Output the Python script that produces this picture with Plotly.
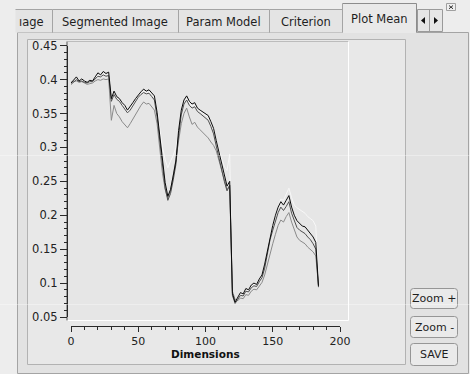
import plotly.graph_objects as go

# ---------------- data ----------------
dims = list(range(0, 185, 2))

mean_black = [
    0.395, 0.399, 0.404, 0.398, 0.401, 0.398, 0.396, 0.399, 0.398, 0.404,
    0.410, 0.407, 0.412, 0.409, 0.411, 0.372, 0.383, 0.375, 0.372, 0.366,
    0.362, 0.355, 0.360, 0.366, 0.372, 0.378, 0.382, 0.386, 0.383, 0.385,
    0.380, 0.376, 0.352, 0.318, 0.280, 0.248, 0.228, 0.238, 0.258, 0.280,
    0.325, 0.355, 0.370, 0.376, 0.368, 0.364, 0.366, 0.358, 0.355, 0.352,
    0.350, 0.347, 0.338, 0.328, 0.310, 0.292, 0.275, 0.258, 0.243, 0.250,
    0.085, 0.072, 0.080, 0.086, 0.084, 0.092, 0.090, 0.097, 0.100, 0.098,
    0.106, 0.112, 0.128, 0.148, 0.170, 0.185, 0.200, 0.212, 0.220, 0.215,
    0.222, 0.229, 0.212, 0.200, 0.192, 0.188, 0.184, 0.183, 0.178, 0.174,
    0.168, 0.160, 0.096]

mean_dark = [
    0.393, 0.396, 0.400, 0.397, 0.398, 0.396, 0.395, 0.397, 0.397, 0.401,
    0.405, 0.404, 0.407, 0.405, 0.406, 0.368, 0.378, 0.371, 0.368, 0.362,
    0.357, 0.351, 0.355, 0.362, 0.368, 0.374, 0.378, 0.381, 0.379, 0.380,
    0.375, 0.370, 0.345, 0.310, 0.270, 0.240, 0.222, 0.232, 0.252, 0.275,
    0.318, 0.348, 0.364, 0.370, 0.362, 0.358, 0.360, 0.353, 0.350, 0.347,
    0.344, 0.340, 0.331, 0.320, 0.302, 0.284, 0.266, 0.250, 0.236, 0.244,
    0.082, 0.070, 0.076, 0.082, 0.081, 0.088, 0.087, 0.093, 0.096, 0.095,
    0.102, 0.108, 0.122, 0.142, 0.164, 0.178, 0.192, 0.204, 0.212, 0.207,
    0.213, 0.220, 0.203, 0.192, 0.182, 0.178, 0.175, 0.173, 0.168, 0.164,
    0.158, 0.150, 0.094]

mean_gray = [
    0.396, 0.397, 0.398, 0.396, 0.397, 0.395, 0.393, 0.394, 0.395, 0.398,
    0.400, 0.399, 0.401, 0.400, 0.401, 0.340, 0.362, 0.350, 0.345, 0.338,
    0.333, 0.329, 0.335, 0.342, 0.350, 0.357, 0.362, 0.367, 0.364, 0.365,
    0.360, 0.355, 0.335, 0.300, 0.262, 0.238, 0.225, 0.236, 0.258, 0.282,
    0.310, 0.335, 0.350, 0.358, 0.345, 0.334, 0.337, 0.330, 0.326, 0.322,
    0.318, 0.314, 0.308, 0.303, 0.295, 0.280, 0.264, 0.250, 0.238, 0.244,
    0.088, 0.076, 0.074, 0.078, 0.077, 0.083, 0.082, 0.088, 0.091, 0.090,
    0.096, 0.101, 0.112, 0.128, 0.145, 0.158, 0.172, 0.185, 0.193, 0.190,
    0.198, 0.204, 0.190, 0.178, 0.168, 0.163, 0.160, 0.158, 0.153, 0.150,
    0.146, 0.140, 0.096]

mean_white = [
    0.394, 0.397, 0.401, 0.397, 0.399, 0.397, 0.395, 0.398, 0.397, 0.402,
    0.407, 0.405, 0.409, 0.406, 0.408, 0.370, 0.380, 0.373, 0.370, 0.364,
    0.360, 0.353, 0.357, 0.363, 0.370, 0.376, 0.380, 0.383, 0.381, 0.382,
    0.378, 0.374, 0.356, 0.328, 0.300, 0.282, 0.270, 0.280, 0.288, 0.300,
    0.322, 0.350, 0.366, 0.372, 0.365, 0.361, 0.362, 0.356, 0.353, 0.350,
    0.348, 0.345, 0.336, 0.325, 0.310, 0.295, 0.283, 0.272, 0.266, 0.290,
    0.084, 0.074, 0.079, 0.084, 0.083, 0.090, 0.089, 0.095, 0.098, 0.097,
    0.104, 0.110, 0.125, 0.146, 0.168, 0.184, 0.200, 0.214, 0.224, 0.222,
    0.230, 0.240, 0.226, 0.215, 0.211, 0.208, 0.205, 0.203, 0.198, 0.195,
    0.192, 0.184, 0.096]

x_ticks = [0, 50, 100, 150, 200]
x_ticklabels = ["0", "50", "100", "150", "200"]
x_minor = list(range(0, 201, 10))
y_ticks = [0.05, 0.10, 0.15, 0.20, 0.25, 0.30, 0.35, 0.40, 0.45]
y_ticklabels = ["0.05", "0.1", "0.15", "0.2", "0.25", "0.3", "0.35", "0.4", "0.45"]
y_minor = [round(0.05 + 0.01 * i, 2) for i in range(41)]

tab_labels = ["ıage", "Segmented Image", "Param Model", "Criterion", "Plot Mean"]
button_labels = ["Zoom +", "Zoom -", "SAVE"]
x_title = "Dimensions"

# ---------------- geometry helpers ----------------
W, H = 470, 374
FONT = "DejaVu Sans"


def px(x):
    return x / W


def py(y):
    return 1 - y / H


shapes = []
annotations = []


def rect(x0, y0, x1, y1, fill, line=None, layer="below"):
    shapes.append(dict(type="rect", xref="paper", yref="paper",
                       x0=px(x0), x1=px(x1), y0=py(y1), y1=py(y0),
                       fillcolor=fill,
                       line=dict(color=line if line else fill, width=1 if line else 0),
                       layer=layer))


def seg(x0, y0, x1, y1, color, width=1, layer="below", opacity=1):
    shapes.append(dict(type="line", xref="paper", yref="paper",
                       x0=px(x0), x1=px(x1), y0=py(y0), y1=py(y1),
                       line=dict(color=color, width=width), layer=layer,
                       opacity=opacity))


def rrect(x0, y0, x1, y1, r, fill, line):
    X0, X1, Y0, Y1 = px(x0), px(x1), py(y0), py(y1)
    rx, ry = r / W, r / H
    path = (f"M{X0+rx},{Y0} L{X1-rx},{Y0} Q{X1},{Y0} {X1},{Y0-ry} "
            f"L{X1},{Y1+ry} Q{X1},{Y1} {X1-rx},{Y1} L{X0+rx},{Y1} "
            f"Q{X0},{Y1} {X0},{Y1+ry} L{X0},{Y0-ry} Q{X0},{Y0} {X0+rx},{Y0} Z")
    shapes.append(dict(type="path", xref="paper", yref="paper", path=path,
                       fillcolor=fill, line=dict(color=line, width=1), layer="below"))


def text(x, y, s, size=11, color="#1e1e1e", bold=False, xanchor="center"):
    annotations.append(dict(xref="paper", yref="paper", x=px(x), y=py(y),
                            text=f"<b>{s}</b>" if bold else s, showarrow=False,
                            xanchor=xanchor, yanchor="middle",
                            font=dict(family=FONT, size=size, color=color)))


BORDER = "#a4a4a4"

# outer panel (tab page)
rect(17.5, 32.5, 468.5, 373.5, "#e2e2e2", BORDER)

# tabs
tab_edges = [15, 52, 178, 269, 342, 416]
tab_centers = [31, 115, 223.5, 305.5]
for i in range(4):
    x0, x1 = tab_edges[i], tab_edges[i + 1]
    rect(x0 + 0.5, 9.5, x1 + 0.5, 32.5, "#e4e4e4")
    seg(x0 + 0.5, 9.5, x1 + 0.5, 9.5, BORDER)
    if i > 0:
        seg(x0 + 0.5, 9.5, x0 + 0.5, 32.5, BORDER)
    seg(x1 + 0.5, 9.5, x1 + 0.5, 32.5, BORDER)
    text(tab_centers[i], 21.5, tab_labels[i], size=11.5)
# selected tab
rect(342.5, 3.5, 416.5, 33, "#e9e9e9")
seg(342.5, 3.5, 416.5, 3.5, "#8c8c8c")
seg(342.5, 3.5, 342.5, 32.5, BORDER)
seg(416.5, 3.5, 416.5, 32.5, "#8c8c8c")
text(379, 19.5, tab_labels[4], size=11.5)

# scroll arrows
rect(417.5, 9.5, 442.5, 31.5, "#e6e6e6", "#9a9a9a")
seg(429.5, 9.5, 429.5, 31.5, "#9a9a9a")
shapes.append(dict(type="path", xref="paper", yref="paper",
                   path=f"M{px(421)},{py(20.5)} L{px(425)},{py(17)} L{px(425)},{py(24)} Z",
                   fillcolor="#111", line=dict(width=0), layer="above"))
shapes.append(dict(type="path", xref="paper", yref="paper",
                   path=f"M{px(438)},{py(20.5)} L{px(434)},{py(17)} L{px(434)},{py(24)} Z",
                   fillcolor="#111", line=dict(width=0), layer="above"))
# close box
rect(446.5, 3.5, 455.5, 10.5, "#efefef", "#a0a0a0")
seg(449, 5.5, 453, 8.8, "#333")
seg(449, 8.8, 453, 5.5, "#333")

# inner frame of the plot widget
rect(27.5, 39.5, 405.5, 364.5, "#e8e8e8", "#b2b2b2")
# plot canvas
rect(67.5, 41.5, 348.5, 320.5, "#e6e6e6")
seg(67.5, 41.5, 348.5, 41.5, "#bcbcbc")
seg(348.5, 41.5, 348.5, 320.5, "#ffffff")
seg(66.5, 320.5, 348.5, 320.5, "#ffffff")
seg(67, 41.5, 67, 320.5, "#555555")

# buttons
btn_y = [(288.5, 308.5), (316.5, 337.5), (343.5, 365.5)]
for (y0, y1), lab in zip(btn_y, button_labels):
    rrect(410.5, y0, 457.5, y1, 3, "#eaeaea", "#969696")
    text(434, (y0 + y1) / 2, lab, size=11)

# faint screen-capture seams
seg(0, 155.5, 470, 155.5, "#ffffff", layer="above", opacity=0.35)
seg(0, 304.5, 470, 304.5, "#ffffff", layer="above", opacity=0.35)

# axis title
text(205, 354, x_title, size=10.5, color="#111", bold=True)

# ---------------- traces ----------------
fig = go.Figure()
for ys, col in [(mean_white, "#f7f7f7"), (mean_gray, "#8a8a8a"),
                (mean_dark, "#4e4e4e"), (mean_black, "#0a0a0a")]:
    fig.add_trace(go.Scatter(x=dims, y=ys, mode="lines",
                             line=dict(color=col, width=1), hoverinfo="skip"))

AX = "#2a2a2a"
fig.update_layout(
    width=W, height=H, autosize=False,
    margin=dict(l=0, r=0, t=0, b=0, pad=0, autoexpand=False),
    paper_bgcolor="#ededed", plot_bgcolor="rgba(0,0,0,0)",
    showlegend=False,
    shapes=shapes, annotations=annotations,
    xaxis=dict(domain=[px(71), px(340)], range=[0, 200], anchor="free",
               position=py(325.5), automargin=False,
               showline=True, linecolor=AX, linewidth=1,
               ticks="outside", ticklen=5, tickwidth=1, tickcolor=AX,
               tickmode="array", tickvals=x_ticks, ticktext=x_ticklabels,
               tickfont=dict(family=FONT, size=11, color="#222"),
               minor=dict(tickmode="array", tickvals=x_minor, ticks="outside",
                          ticklen=3, tickcolor=AX, showgrid=False),
               showgrid=False, zeroline=False, fixedrange=True),
    yaxis=dict(domain=[py(317), py(45.7)], range=[0.05, 0.45], anchor="free",
               position=px(67), automargin=False,
               showline=True, linecolor=AX, linewidth=1,
               ticks="outside", ticklen=7, tickwidth=1, tickcolor=AX,
               tickmode="array", tickvals=y_ticks, ticktext=y_ticklabels,
               tickfont=dict(family=FONT, size=11.5, color="#222"),
               minor=dict(tickmode="array", tickvals=y_minor, ticks="outside",
                          ticklen=3, tickcolor=AX, showgrid=False),
               showgrid=False, zeroline=False, fixedrange=True),
)

fig.write_html("out.html", config={"displayModeBar": False})
